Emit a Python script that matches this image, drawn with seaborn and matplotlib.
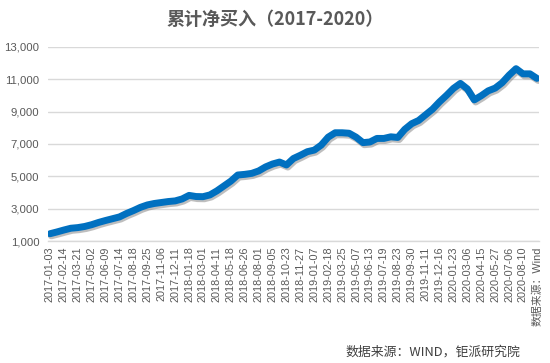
import numpy as np
import pandas as pd
import matplotlib
matplotlib.use("Agg")
import matplotlib.pyplot as plt
import matplotlib.patheffects as pe
import seaborn as sns

title = "累计净买入（2017-2020）"
source_note = "数据来源：WIND，钜派研究院"

tick_labels = [
    "2017-01-03", "2017-02-14", "2017-03-21", "2017-05-02", "2017-06-09",
    "2017-07-14", "2017-08-18", "2017-09-25", "2017-11-06", "2017-12-11",
    "2018-01-18", "2018-03-01", "2018-04-11", "2018-05-18", "2018-06-26",
    "2018-08-01", "2018-09-05", "2018-10-23", "2018-11-27", "2019-01-07",
    "2019-02-18", "2019-03-25", "2019-05-07", "2019-06-13", "2019-07-19",
    "2019-08-23", "2019-09-30", "2019-11-11", "2019-12-16", "2020-01-23",
    "2020-03-06", "2020-04-15", "2020-05-27", "2020-07-06", "2020-08-10",
    "数据来源：Wind",
]

# cumulative net buying, sampled every half label interval
net_buy = [
    1450, 1560, 1680, 1790, 1830, 1900, 2010, 2150, 2270, 2380,
    2490, 2700, 2880, 3080, 3230, 3320, 3380, 3440, 3480, 3600,
    3820, 3750, 3740, 3850, 4100, 4400, 4700, 5080, 5120, 5180,
    5330, 5580, 5760, 5880, 5700, 6100, 6300, 6520, 6620, 6930,
    7420, 7690, 7690, 7660, 7420, 7080, 7120, 7340, 7340, 7440,
    7400, 7900, 8250, 8450, 8800, 9150, 9600, 10000, 10430, 10740,
    10400, 9720, 9980, 10280, 10450, 10780, 11250, 11650, 11330, 11330,
    11050,
]

y_ticks = [1000, 3000, 5000, 7000, 9000, 11000, 13000]

df = pd.DataFrame({"pos": np.arange(len(net_buy)) * 0.5, "value": net_buy})

sns.set_theme(style="white")
plt.rcParams["font.family"] = ["Liberation Sans", "Noto Sans CJK SC", "DejaVu Sans"]

fig = plt.figure(figsize=(5.5, 3.63), dpi=100)
ax = fig.add_axes([0.087, 0.336, 0.893, 0.535])

sns.lineplot(data=df, x="pos", y="value", ax=ax, color="#0070C0", linewidth=5.0,
             solid_capstyle="round", solid_joinstyle="round",
             path_effects=[pe.SimpleLineShadow(offset=(1, -1.5), shadow_color="#7f7f7f", alpha=0.5),
                           pe.Normal()])

ax.set_ylim(1000, 13000)
ax.set_yticks(y_ticks)
ax.set_yticklabels([f"{v:,}" for v in y_ticks])
ax.set_xlim(-0.15, 35.15)
ax.set_xticks(range(len(tick_labels)))
ax.set_xticklabels(tick_labels, rotation=90, va="top", ha="center")
ax.set_xlabel("")
ax.set_ylabel("")

ax.grid(axis="y", color="#D9D9D9", linewidth=1.0)
ax.grid(axis="x", visible=False)
for s in ["top", "right", "left"]:
    ax.spines[s].set_visible(False)
ax.spines["bottom"].set_color("#D9D9D9")
ax.spines["bottom"].set_linewidth(1.0)
ax.tick_params(axis="both", length=0, colors="#595959")
ax.tick_params(axis="y", labelsize=8.2, pad=6)
ax.tick_params(axis="x", labelsize=7.8, pad=4)

fig.text(0.5, 0.945, title, ha="center", va="center", fontsize=13, fontweight="bold",
         color="#595959", family=["Noto Sans CJK SC", "DejaVu Sans"])
fig.text(0.946, 0.031, source_note, ha="right", va="center", fontsize=9.3,
         color="#404040", family=["Noto Sans CJK SC", "DejaVu Sans"])

fig.savefig("out.png", dpi=100)
